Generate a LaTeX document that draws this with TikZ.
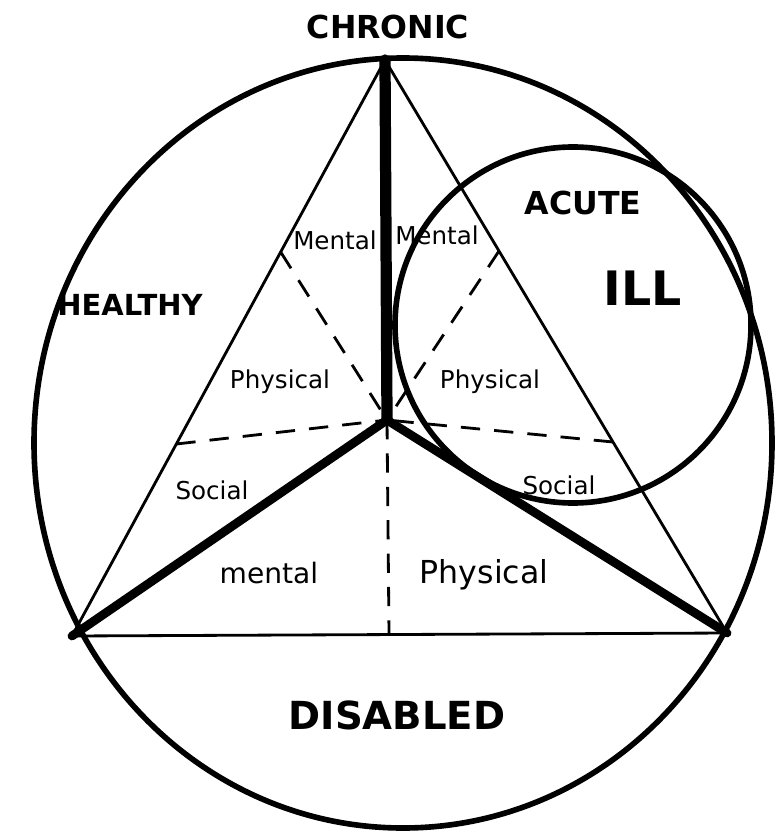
\documentclass[tikz,border=0pt]{standalone}
\usepackage{fontspec}
\setmainfont{DejaVu Sans}
\usetikzlibrary{calc}

\begin{document}
\begin{tikzpicture}[x=0.02cm, y=-0.02cm,
    rim/.style={line width=3.2pt},
    edge/.style={line width=1.6pt},
    spoke/.style={line width=5pt, line cap=round},
    split/.style={line width=1.6pt, dash pattern=on 11pt off 8pt},
    part/.style={font=\fontsize{14}{16}\selectfont},
    state/.style={font=\bfseries\fontsize{18}{20}\selectfont}]
    \useasboundingbox (0,0) rectangle (774,831);

    % Corners of the triangle and its centre
    \coordinate (T) at (385,60);
    \coordinate (L) at (72,636);
    \coordinate (R) at (727,633);
    \coordinate (C) at (387,420);
    \coordinate (B) at (389,634);

    % Points that cut the outer sides in three
    \coordinate (TL1) at ($(T)!1/3!(L)$);
    \coordinate (TL2) at ($(T)!2/3!(L)$);
    \coordinate (TR1) at ($(T)!1/3!(R)$);
    \coordinate (TR2) at ($(T)!2/3!(R)$);

    % Outer circle
    \draw[rim] (403,443) ellipse [x radius=369, y radius=385];

    % Outer triangle
    \draw[edge] (T) -- (L) -- (R) -- cycle;

    % Dashed splits
    \draw[split] (TL1) -- (C);
    \draw[split] (TL2) -- (C);
    \draw[split] (TR1) -- (C);
    \draw[split] (TR2) -- (C);
    \draw[split] (C) -- (B);

    % Thick spokes
    \draw[spoke, line width=6.4pt] (T) -- (C);
    \draw[spoke] (C) -- (L);
    \draw[spoke] (C) -- (R);

    % Acute circle
    \draw[rim] (573,325) circle [radius=178];

    % Labels
    \node[state] (chronic) at (388,27) {CHRONIC};
    \node[state, font=\bfseries\fontsize{16.5}{18}\selectfont] (healthy) at (130,305) {HEALTHY};
    \node[state] (acute) at (583,203) {ACUTE};
    \node[state, font=\bfseries\fontsize{27}{30}\selectfont] (ill) at (643,288) {ILL};
    \node[state, font=\bfseries\fontsize{22}{24}\selectfont] (disabled) at (397,715) {DISABLED};

    \node[part] (hmental) at (335,240) {Mental};
    \node[part] (imental) at (437,235) {Mental};
    \node[part] (hphysical) at (280,382) {Physical};
    \node[part] (iphysical) at (490,382) {Physical};
    \node[part] (hsocial) at (212,490) {Social};
    \node[part] (isocial) at (559,485) {Social};
    \node[part, font=\fontsize{16}{18}\selectfont] (dmental) at (269,573) {mental};
    \node[part, font=\fontsize{18}{20}\selectfont] (dphysical) at (484,575) {Physical};
\end{tikzpicture}
\end{document}
